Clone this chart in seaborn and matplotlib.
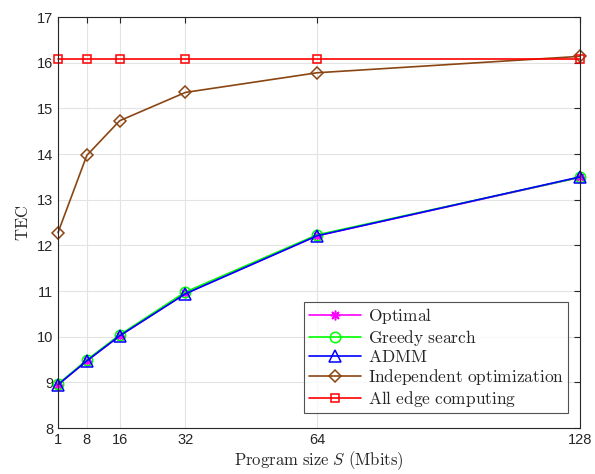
import numpy as np
import pandas as pd
import matplotlib
matplotlib.use("Agg")
import matplotlib.pyplot as plt
import seaborn as sns

# ── Données ────────────────────────────────────────────────────────────────
program_size = [1, 8, 16, 32, 64, 128]
tec_optimal = [8.95, 9.47, 10.02, 10.95, 12.21, 13.49]
tec_greedy = [8.96, 9.49, 10.04, 10.98, 12.23, 13.49]
tec_admm = [8.95, 9.47, 10.02, 10.94, 12.21, 13.50]
tec_independent = [12.28, 13.97, 14.73, 15.35, 15.78, 16.14]
tec_all_edge = [16.08, 16.08, 16.08, 16.08, 16.08, 16.08]

series = [
    (r"$\mathrm{Optimal}$", tec_optimal, "#ff00ff", (8, 2, 0), 7),
    (r"$\mathrm{Greedy\ search}$", tec_greedy, "#00ff00", "o", 7.5),
    (r"$\mathrm{ADMM}$", tec_admm, "#0000ff", "^", 8),
    (r"$\mathrm{Independent\ optimization}$", tec_independent, "#8b4513", "D", 6.5),
    (r"$\mathrm{All\ edge\ computing}$", tec_all_edge, "#ff0000", "s", 6),
]

sns.set_style("white")
plt.rcParams["font.family"] = ["Liberation Sans", "DejaVu Sans"]
plt.rcParams["mathtext.fontset"] = "cm"

fig = plt.figure(figsize=(5.95, 4.74), dpi=100)
ax = fig.add_axes([0.0975, 0.097, 0.8775, 0.867])

for label, values, color, marker, ms in series:
    df = pd.DataFrame({"S": program_size, "TEC": values})
    sns.lineplot(data=df, x="S", y="TEC", ax=ax, color=color, marker=marker,
                 markersize=ms, markerfacecolor="none", markeredgecolor=color,
                 markeredgewidth=1.1, linewidth=1.2, label=label, clip_on=False)

ax.set_xlim(1, 128)
ax.set_ylim(8, 17)
ax.set_xticks(program_size)
ax.set_yticks(range(8, 18))
ax.tick_params(direction="in", length=4, width=0.8, labelsize=10.5,
               top=True, right=True, colors="#262626")
ax.grid(True, color="#e3e3e3", linewidth=0.8)
for spine in ax.spines.values():
    spine.set_color("#262626")
    spine.set_linewidth(0.8)

ax.set_xlabel(r"$\mathrm{Program\ size}\ S\ \mathrm{(Mbits)}$", fontsize=12, labelpad=2)
ax.set_ylabel(r"$\mathrm{TEC}$", fontsize=12, labelpad=4)

leg = ax.legend(loc="lower right", bbox_to_anchor=(0.977, 0.036), fontsize=12.5,
                frameon=True, fancybox=False, edgecolor="#262626",
                handlelength=3.0, borderpad=0.25, labelspacing=0.1,
                handletextpad=0.4, borderaxespad=0)
leg.get_frame().set_linewidth(0.8)

fig.savefig("out.png", dpi=100)
